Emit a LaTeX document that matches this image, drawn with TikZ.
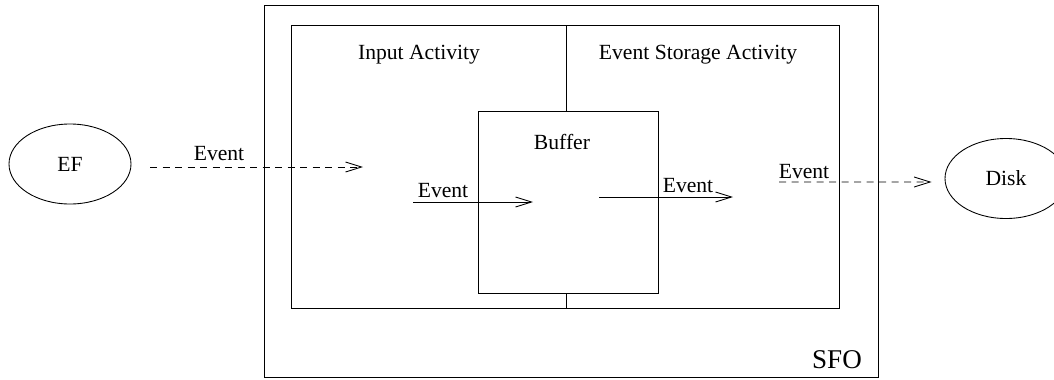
\documentclass[tikz,border=0pt]{standalone}
\usepackage{fontspec}
\setmainfont{Liberation Serif}
\usetikzlibrary{arrows.meta,calc,shapes.geometric,positioning}

\tikzset{
  unit/.style={ellipse,draw,minimum width=2.44cm,minimum height=1.6cm,inner sep=0pt},
  flow/.style={-{Straight Barb[length=3.2mm,width=2mm]}},
  dflow/.style={flow,dash pattern=on 1.4mm off 1.1mm},
  lbl/.style={inner sep=0pt}
}

\begin{document}
\begin{tikzpicture}[line width=0.5pt,font=\fontsize{12.3}{14}\selectfont]
  \useasboundingbox (0,0) rectangle (21.08,7.58);
  % SFO frame, the two activities and the buffer between them
  \draw (5.28,0.04) rectangle (17.56,7.48);
  \draw (5.82,1.42) rectangle (16.78,7.08);
  \draw (9.56,1.72) rectangle (13.16,5.36);
  \draw (11.32,7.08) -- (11.32,5.36);
  \draw (11.32,1.72) -- (11.32,1.42);
  \node[lbl] (inact) at (8.38,6.48) {Input Activity};
  \node[lbl] (stact) at (13.96,6.48) {Event Storage Activity};
  \node[lbl] (buf) at (11.24,4.74) {Buffer};
  \node[lbl,font=\fontsize{15.4}{18}\selectfont] (sfo) at (16.74,0.39) {SFO};
  % outside units
  \node[unit] (ef) at (1.40,4.30) {EF};
  \node[unit] (disk) at (20.12,4.01) {Disk};
  % event flow
  \coordinate (e1a) at (3.00,4.24);
  \coordinate (e1b) at (7.26,4.24);
  \coordinate (e2a) at (8.26,3.54);
  \coordinate (e2b) at (10.66,3.54);
  \coordinate (e3a) at (11.98,3.64);
  \coordinate (e3b) at (14.66,3.64);
  \coordinate (e4a) at (15.58,3.94);
  \draw[dflow] (e1a) -- (e1b);
  \draw[flow] (e2a) -- (e2b);
  \draw[flow] (e3a) -- (e3b);
  \draw[dflow] (e4a) -- ($(disk.west)+(-0.26,-0.07)$);
  \node[lbl] (ev1) at (4.38,4.50) {Event};
  \node[lbl] (ev2) at (8.86,3.76) {Event};
  \node[lbl] (ev3) at (13.76,3.86) {Event};
  \node[lbl] (ev4) at (16.08,4.14) {Event};
\end{tikzpicture}
\end{document}
